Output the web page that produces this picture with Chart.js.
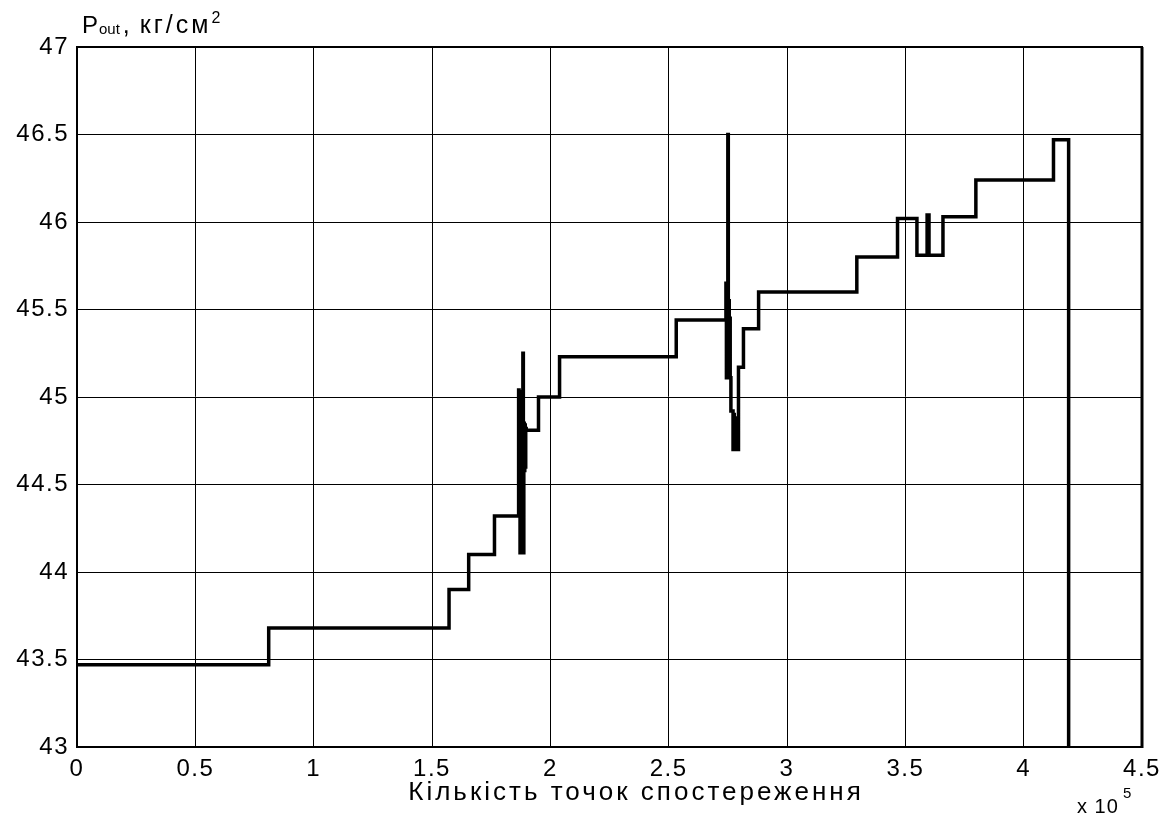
<!DOCTYPE html>
<html>
<head>
<meta charset="utf-8">
<script src="https://cdn.jsdelivr.net/npm/chart.js@4/dist/chart.umd.min.js"></script>
<style>
  html, body { margin: 0; padding: 0; background: #fff; }
  canvas { display: block; }
</style>
</head>
<body>
<canvas id="c" width="1167" height="821"></canvas>
<script>
// Observation index (units of 1e5) at which the outlet pressure changes level
const stepX = [
  0, 0.81, 1.572, 1.655, 1.764,
  1.866, 1.868, 1.870, 1.872, 1.874, 1.876, 1.878, 1.880, 1.882,
  1.884, 1.886, 1.888, 1.890, 1.892, 1.894, 1.896, 1.898,
  1.950, 2.039, 2.532,
  2.742, 2.744, 2.746, 2.748, 2.750, 2.752, 2.754, 2.756, 2.758, 2.760,
  2.763, 2.772, 2.775, 2.777, 2.779, 2.781, 2.783, 2.786, 2.789, 2.792,
  2.795, 2.816, 2.880,
  3.295, 3.467, 3.549, 3.592, 3.600, 3.659, 3.798, 4.126, 4.190
];
// Outlet pressure P_out, kg/cm^2, held from each change point onward
const stepP = [
  43.47, 43.68, 43.90, 44.10, 44.32,
  45.04, 44.45, 45.02, 44.11, 45.03, 44.50, 45.00, 44.60, 44.98,
  45.25, 44.11, 44.85, 44.58, 44.84, 44.60, 44.82, 44.81,
  45.00, 45.23, 45.44,
  45.65, 45.11, 45.60, 45.15, 46.50, 45.12, 45.55, 45.15, 45.45, 45.11,
  44.92, 44.70, 44.90, 44.70, 44.88, 44.70, 44.86, 44.71, 44.85, 44.70,
  45.17, 45.39, 45.60,
  45.80, 46.02, 45.81, 46.04, 45.81, 46.03, 46.24, 46.47, 43.00
];
const xTicks = [0, 0.5, 1, 1.5, 2, 2.5, 3, 3.5, 4, 4.5];
const yTicks = [43, 43.5, 44, 44.5, 45, 45.5, 46, 46.5, 47];

const FONT = '"Liberation Sans", Arial, Helvetica, sans-serif';

const points = stepX.map((x, i) => ({ x: x, y: stepP[i] }));

// Frame, axis titles and the exponent note
const decor = {
  id: 'decor',
  beforeDraw(chart) {
    chart.ctx.letterSpacing = '1.5px';
  },
  afterDraw(chart) {
    const ctx = chart.ctx;
    const a = chart.chartArea;
    ctx.save();
    ctx.strokeStyle = '#000';
    ctx.lineWidth = 2;
    ctx.strokeRect(a.left, a.top, a.right - a.left, a.bottom - a.top);
    ctx.lineWidth = 3;
    ctx.beginPath();
    ctx.moveTo(a.right, a.top);
    ctx.lineTo(a.right, a.bottom + 1);
    ctx.stroke();

    ctx.fillStyle = '#000';
    ctx.textBaseline = 'alphabetic';
    ctx.textAlign = 'left';
    // y-axis title: P_out , кг/см^2
    let x = a.left + 5;
    const base = 33;
    ctx.letterSpacing = '0px';
    ctx.font = '24px ' + FONT;
    ctx.fillText('P', x, base);
    x += ctx.measureText('P').width + 1;
    ctx.font = '15px ' + FONT;
    ctx.fillText('out', x, base + 1);
    x += ctx.measureText('out').width + 3;
    ctx.font = '25px ' + FONT;
    ctx.fillText(',', x, base);
    x += ctx.measureText(', ').width + 3;
    ctx.letterSpacing = '3px';
    ctx.fillText('кг/см', x, base);
    x += ctx.measureText('кг/см').width;
    ctx.letterSpacing = '0px';
    ctx.font = '16px ' + FONT;
    ctx.fillText('2', x, base - 10);

    // x-axis title
    ctx.letterSpacing = '3px';
    ctx.font = '26px ' + FONT;
    ctx.textAlign = 'center';
    ctx.fillText('Кількість точок спостереження', 636, 800);

    // exponent note: x 10^5
    ctx.letterSpacing = '1px';
    ctx.textAlign = 'left';
    ctx.font = '20px ' + FONT;
    ctx.fillText('x 10', 1077, 813);
    ctx.letterSpacing = '0px';
    ctx.font = '15px ' + FONT;
    ctx.fillText('5', 1123, 798);
    ctx.restore();
  }
};

new Chart(document.getElementById('c'), {
  type: 'line',
  data: {
    datasets: [{
      data: points,
      stepped: true,
      borderColor: '#000',
      borderWidth: 3.5,
      pointRadius: 0,
      fill: false,
      tension: 0
    }]
  },
  options: {
    responsive: false,
    animation: false,
    devicePixelRatio: 1,
    layout: { padding: { left: 0, right: 25, top: 47, bottom: 0 } },
    plugins: { legend: { display: false }, tooltip: { enabled: false } },
    scales: {
      x: {
        type: 'linear',
        min: xTicks[0],
        max: xTicks[xTicks.length - 1],
        afterFit(s) { s.height = 74; },
        afterBuildTicks(s) { s.ticks = xTicks.map(v => ({ value: v })); },
        grid: { color: '#000', lineWidth: 1, drawTicks: false },
        border: { display: true, color: '#000', width: 2 },
        ticks: {
          color: '#000',
          padding: 8,
          maxRotation: 0,
          font: { family: FONT, size: 24 },
          callback: v => String(v)
        }
      },
      y: {
        type: 'linear',
        min: yTicks[0],
        max: yTicks[yTicks.length - 1],
        afterFit(s) { s.width = 77; },
        afterBuildTicks(s) { s.ticks = yTicks.map(v => ({ value: v })); },
        grid: { color: '#000', lineWidth: 1, drawTicks: false },
        border: { display: true, color: '#000', width: 2 },
        ticks: {
          color: '#000',
          padding: 8,
          font: { family: FONT, size: 24 },
          callback: v => String(v)
        }
      }
    }
  },
  plugins: [decor]
});
</script>
</body>
</html>
